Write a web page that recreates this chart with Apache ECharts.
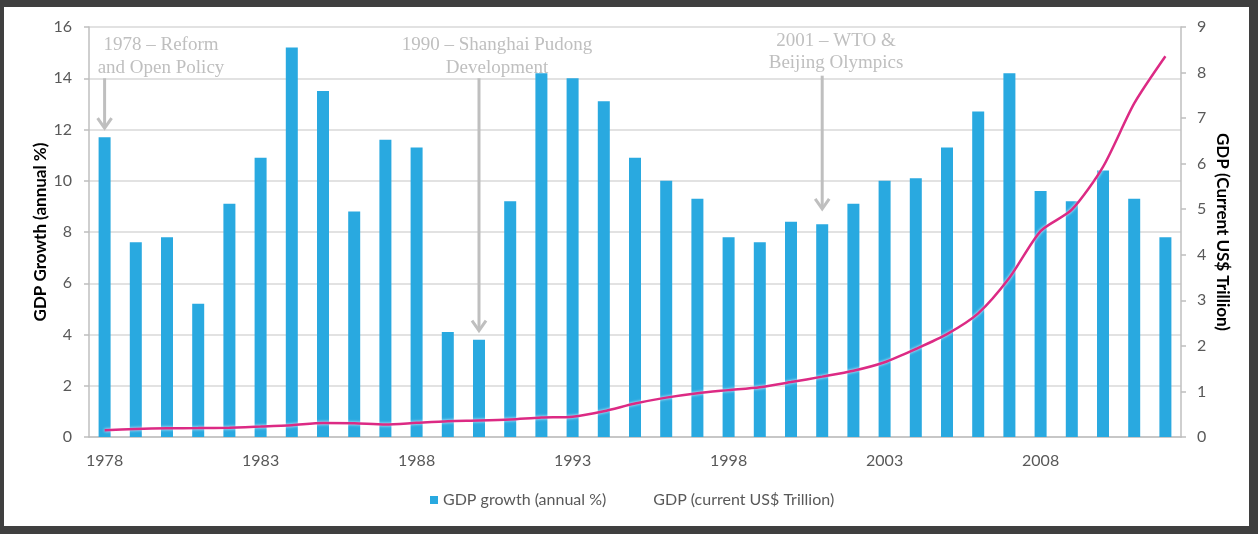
<!DOCTYPE html>
<html><head><meta charset="utf-8">
<script src="https://cdn.jsdelivr.net/npm/echarts@6/dist/echarts.min.js"></script>
<style>
html,body{margin:0;padding:0;background:#3f3f3f;}
#wrap{position:absolute;left:4px;top:7px;width:1245px;height:519px;background:#fff;}
#c{position:absolute;left:-4px;top:-7px;width:1258px;height:534px;}
</style></head>
<body><div id="wrap"><div id="c"></div></div>
<script>
const years = ['1978','1979','1980','1981','1982','1983','1984','1985','1986','1987','1988','1989','1990','1991','1992','1993','1994','1995','1996','1997','1998','1999','2000','2001','2002','2003','2004','2005','2006','2007','2008','2009','2010','2011','2012'];
const gdpGrowth = [11.7,7.6,7.8,5.2,9.1,10.9,15.2,13.5,8.8,11.6,11.3,4.1,3.8,9.2,14.2,14.0,13.1,10.9,10.0,9.3,7.8,7.6,8.4,8.3,9.1,10.0,10.1,11.3,12.7,14.2,9.6,9.2,10.4,9.3,7.8];
const gdpTrillion = [0.149,0.178,0.191,0.196,0.205,0.230,0.260,0.309,0.301,0.273,0.312,0.348,0.361,0.383,0.427,0.445,0.564,0.734,0.864,0.962,1.029,1.094,1.205,1.325,1.454,1.641,1.932,2.257,2.713,3.494,4.520,4.990,5.930,7.322,8.358];
const growthTicks = {min:0,max:16,interval:2};
const gdpTicks = {min:0,max:9,interval:1};
const annotations = [
  {year:'1978', lines:['1978 – Reform','and Open Policy'], from:14.0, to:12.05},
  {year:'1990', lines:['1990 – Shanghai Pudong','Development'], from:14.0, to:4.15},
  {year:'2001', lines:['2001 – WTO &','Beijing Olympics'], from:14.1, to:8.9}
];
const textPos = [[161,45,68],[497,45,68],[836,41,63]];

const chart = echarts.init(document.getElementById('c'));
const lblFont = 'Lato, "Open Sans", sans-serif';
chart.setOption({
  backgroundColor:'transparent',
  animation:false,
  grid:{left:89,right:77,top:27,bottom:97,containLabel:false},
  legend:{
    left:425, top:487, itemWidth:8, itemHeight:8, itemGap:34,
    textStyle:{color:'#595959',fontSize:16,fontFamily:lblFont},
    data:[
      {name:'GDP growth (annual %)',icon:'rect'},
      {name:'GDP (current US$ Trillion)',icon:'rect',itemStyle:{opacity:0}}
    ]
  },
  xAxis:{
    type:'category', data:years, boundaryGap:true,
    axisLine:{lineStyle:{color:'#bfbfbf',width:1.5}},
    axisTick:{interval:4,length:5,lineStyle:{color:'#bfbfbf',width:1.5}},
    axisLabel:{interval:4,color:'#595959',fontSize:16,fontFamily:lblFont,margin:16}
  },
  yAxis:[
    {type:'value',min:growthTicks.min,max:growthTicks.max,interval:growthTicks.interval,
     name:'GDP Growth (annual %)',nameLocation:'middle',nameGap:40,nameRotate:90,nameMoveOverlap:false,
     nameTextStyle:{color:'#000',fontSize:17,fontWeight:'bold',fontFamily:lblFont},
     axisLine:{show:true,lineStyle:{color:'#bfbfbf',width:1.5}},
     axisTick:{show:true,length:5,lineStyle:{color:'#bfbfbf',width:1.5}},
     axisLabel:{color:'#595959',fontSize:16,fontFamily:lblFont,margin:17},
     splitLine:{lineStyle:{color:'#d9d9d9',width:1.5}}},
    {type:'value',min:gdpTicks.min,max:gdpTicks.max,interval:gdpTicks.interval,
     name:'GDP (Current US$ Trillion)',nameLocation:'middle',nameGap:33,nameRotate:-90,nameMoveOverlap:false,
     nameTextStyle:{color:'#000',fontSize:17,fontWeight:'bold',fontFamily:lblFont},
     axisLine:{show:true,lineStyle:{color:'#bfbfbf',width:1.5}},
     axisTick:{show:true,length:5,lineStyle:{color:'#bfbfbf',width:1.5}},
     axisLabel:{color:'#595959',fontSize:16,fontFamily:lblFont,margin:16},
     splitLine:{show:false}}
  ],
  series:[
    {name:'GDP growth (annual %)',type:'bar',data:gdpGrowth,barWidth:12,
     itemStyle:{color:'#29a9e0'}},
    {name:'GDP (current US$ Trillion)',type:'line',yAxisIndex:1,data:gdpTrillion,
     smooth:0.25,symbol:'none',
     lineStyle:{color:'#dc2a84',width:2.5,shadowColor:'rgba(255,255,255,0.9)',shadowBlur:3},
     itemStyle:{color:'#dc2a84'}}
  ]
});

const gfx = [];
annotations.forEach((a,i)=>{
  const p1 = chart.convertToPixel({xAxisIndex:0,yAxisIndex:0},[a.year,a.from]);
  const p2 = chart.convertToPixel({xAxisIndex:0,yAxisIndex:0},[a.year,a.to]);
  const x = p1[0];
  gfx.push({type:'line',shape:{x1:x,y1:p1[1],x2:x,y2:p2[1]-1},style:{stroke:'#bfbfbf',lineWidth:3},z:10});
  gfx.push({type:'polyline',shape:{points:[[x-7,p2[1]-10],[x,p2[1]],[x+7,p2[1]-10]]},style:{stroke:'#bfbfbf',lineWidth:3,fill:null},z:10});
  const tp = textPos[i];
  a.lines.forEach((t,j)=>{
    gfx.push({type:'text',x:tp[0],y:tp[1+j],style:{text:t,fill:'#bfbfbf',font:'19px "Liberation Serif", "Times New Roman", serif',align:'center',verticalAlign:'middle'},z:11});
  });
});
chart.setOption({graphic:gfx});
</script>
</body></html>
